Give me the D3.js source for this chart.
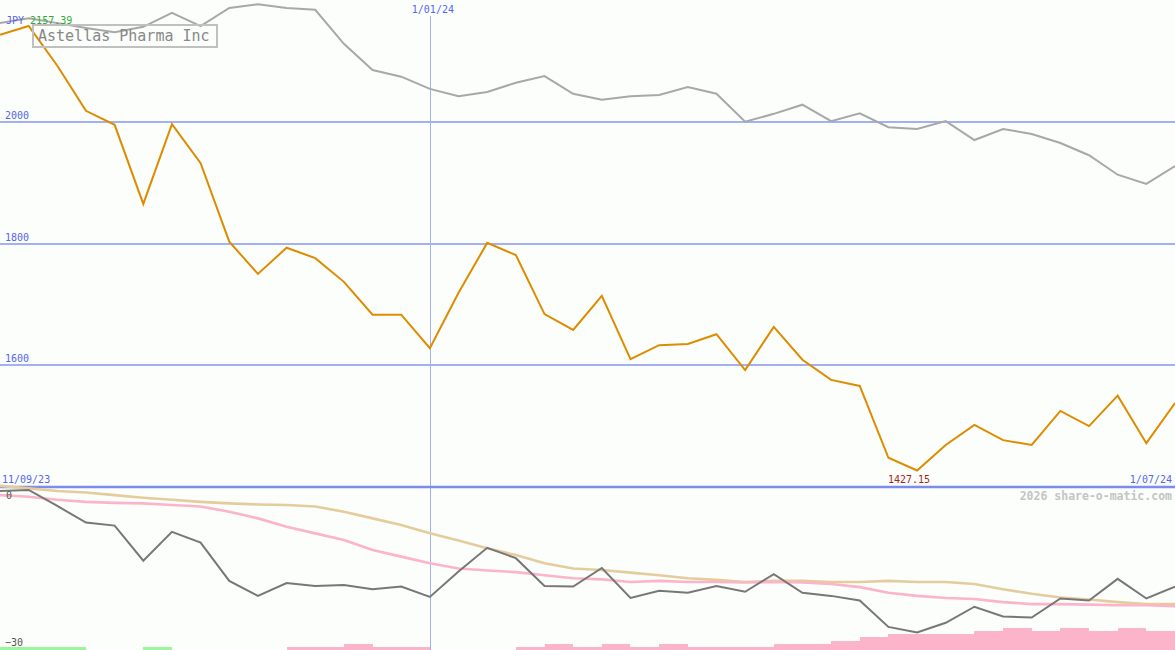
<!DOCTYPE html>
<html><head><meta charset="utf-8">
<script src="https://cdn.jsdelivr.net/npm/d3@7"></script>
<style>
html,body{margin:0;padding:0;background:#fbfefb;}
svg{display:block;}
text{font-family:"DejaVu Sans Mono",monospace;}
</style></head>
<body><svg id="c" width="1175" height="650"></svg>
<script>
// ---- data ----
const title = "Astellas Pharma Inc";
const currency = "JPY";
const dateLabels = ["11/09/23", "1/01/24", "1/07/24"];
const dateLabelIdx = [0, 15, 41];
const priceTicks = [1600, 1800, 2000];
const lowerTicks = [0, -30];
const price = [2143, 2157.39, 2092, 2018, 1995, 1865, 1996, 1932, 1803, 1750, 1793, 1776, 1737, 1683, 1683, 1628, 1719, 1801, 1781, 1684, 1658, 1714, 1610, 1633, 1635, 1651, 1592, 1663, 1609, 1576, 1566, 1448, 1427.15, 1469, 1502, 1477, 1469, 1525, 1500, 1550, 1472, 1538];
const indexLine = [2162, 2170, 2162, 2154, 2147, 2156, 2179, 2157, 2187, 2193, 2187, 2184, 2128, 2085, 2074, 2054, 2042, 2049, 2064, 2075, 2046, 2036, 2042, 2044, 2057, 2046, 2000, 2013, 2028, 2001, 2014, 1991, 1988, 2001, 1970, 1988, 1980, 1965, 1945, 1913, 1898, 1927];
const relPerf = [0, 0.2, -2.9, -6.1, -6.7, -13.5, -7.9, -10.0, -17.4, -20.3, -17.8, -18.4, -18.2, -19.0, -18.5, -20.5, -15.6, -11.0, -13.0, -18.4, -18.5, -14.9, -20.7, -19.3, -19.7, -18.4, -19.5, -16.1, -19.7, -20.3, -21.2, -26.3, -27.4, -25.5, -22.4, -24.3, -24.5, -20.8, -21.2, -17.0, -20.8, -18.5];
const maLong = [1.0, 0.5, 0, -0.3, -0.8, -1.3, -1.7, -2.1, -2.4, -2.6, -2.7, -3.0, -4.0, -5.3, -6.6, -8.2, -9.6, -11.1, -12.4, -14.0, -15.0, -15.3, -15.8, -16.3, -16.9, -17.2, -17.6, -17.4, -17.4, -17.6, -17.6, -17.4, -17.6, -17.6, -18.0, -19.0, -19.9, -20.6, -21.0, -21.5, -21.9, -21.9];
const maShort = [-0.8, -1.1, -1.7, -2.1, -2.3, -2.4, -2.7, -3.0, -4.0, -5.3, -6.9, -8.2, -9.5, -11.4, -12.7, -14.0, -15.0, -15.4, -15.7, -16.3, -16.9, -17.1, -17.6, -17.4, -17.6, -17.6, -17.7, -17.6, -17.7, -18.0, -18.6, -19.7, -20.3, -20.7, -20.9, -21.5, -21.9, -21.9, -22.0, -22.1, -22.1, -22.3];
const barValues = [1, 1, 1, 0, 0, 1, 0, 0, 0, 0, -1, -1, -2, -1, -1, 0, 0, 0, -1, -2, -1, -2, -1, -2, -1, -1, -1, -2, -2, -3, -4, -5, -5, -5, -6, -7, -6, -7, -6, -7, -6];
const watermark = "2026 share-o-matic.com";

// ---- chart ----
const W = 1175, H = 650;
const svg = d3.select("#c");
const n = price.length;
const x = d3.scaleLinear().domain([0, n - 1]).range([0, W]);
const y = d3.scaleLinear().domain([1400, 2200]).range([487, 0]);
const y2 = d3.scaleLinear().domain([-30, 0]).range([646, 491]);
const yb = d3.scaleLinear().domain([0, 7]).range([650, 628]);

svg.append("rect").attr("width", W).attr("height", H).attr("fill", "#fbfefb");

// horizontal gridlines
svg.selectAll("line.grid").data(priceTicks).join("line")
  .attr("x1", 0).attr("x2", W)
  .attr("y1", d => Math.round(y(d))).attr("y2", d => Math.round(y(d)))
  .attr("stroke", "#a3b1f2").attr("stroke-width", 2).attr("shape-rendering", "crispEdges");
svg.selectAll("text.grid").data(priceTicks).join("text")
  .attr("x", 5).attr("y", d => Math.round(y(d)) - 3)
  .attr("font-size", 10).attr("fill", "#5566ee").text(d => d);

// vertical date line
svg.append("line")
  .attr("x1", Math.round(x(dateLabelIdx[1])) + 0.5).attr("x2", Math.round(x(dateLabelIdx[1])) + 0.5)
  .attr("y1", 16).attr("y2", H)
  .attr("stroke", "#a6b0f0").attr("stroke-width", 1);

// bottom axis line
svg.append("line").attr("x1", 0).attr("x2", W).attr("y1", 487).attr("y2", 487)
  .attr("stroke", "#7b8bee").attr("stroke-width", 2.5);

// bars
svg.selectAll("rect.bar").data(barValues).join("rect")
  .attr("x", (d, i) => Math.round(x(i)))
  .attr("width", (d, i) => Math.round(x(i + 1)) - Math.round(x(i)))
  .attr("y", d => yb(Math.abs(d)))
  .attr("height", d => 650 - yb(Math.abs(d)))
  .attr("fill", d => d > 0 ? "#9cf59c" : "#fbb4c9")
  .attr("shape-rendering", "crispEdges");

const line = (ys, data) => d3.line().x((d, i) => x(i)).y(d => ys(d))(data);

// lower panel lines
svg.append("path").attr("d", line(y2, maLong)).attr("fill", "none").attr("stroke", "#e5cc9c").attr("stroke-width", 2.6);
svg.append("path").attr("d", line(y2, maShort)).attr("fill", "none").attr("stroke", "#fbb4c9").attr("stroke-width", 2.6);
svg.append("path").attr("d", line(y2, relPerf)).attr("fill", "none").attr("stroke", "#777777").attr("stroke-width", 2);

svg.selectAll("text.low").data(lowerTicks).join("text")
  .attr("x", d => d === 0 ? 6 : 5).attr("y", d => d === 0 ? 499 : 646)
  .attr("font-size", 10).attr("fill", "#555").text(d => d === 0 ? "0" : "\u221230");

// main lines
svg.append("path").attr("d", line(y, indexLine)).attr("fill", "none").attr("stroke", "#a8a8a8").attr("stroke-width", 2);
svg.append("path").attr("d", line(y, price)).attr("fill", "none").attr("stroke", "#dd8c00").attr("stroke-width", 2);

// title box
svg.append("rect").attr("x", 33).attr("y", 25).attr("width", 184).attr("height", 22)
  .attr("fill", "none").attr("stroke", "#c0c0c0").attr("stroke-width", 2);
svg.append("text").attr("x", 38).attr("y", 41).attr("font-size", 15).attr("fill", "#888").text(title);

// max label
const maxI = d3.maxIndex(price), minI = d3.minIndex(price);
const tl = svg.append("text").attr("x", 6).attr("y", 24).attr("font-size", 10);
tl.append("tspan").attr("fill", "#5566ee").text(currency + " ");
tl.append("tspan").attr("fill", "#33aa33").text(price[maxI].toFixed(2));

// min label
svg.append("text").attr("x", x(minI) - 8).attr("y", 483).attr("text-anchor", "middle")
  .attr("font-size", 10).attr("fill", "#aa2222").text(price[minI].toFixed(2));

// date labels
svg.append("text").attr("x", 2).attr("y", 483).attr("font-size", 10).attr("fill", "#5566ee").text(dateLabels[0]);
svg.append("text").attr("x", x(dateLabelIdx[1]) + 3).attr("y", 13).attr("text-anchor", "middle").attr("font-size", 10).attr("fill", "#5566ee").text(dateLabels[1]);
svg.append("text").attr("x", 1172).attr("y", 483).attr("text-anchor", "end").attr("font-size", 10).attr("fill", "#5566ee").text(dateLabels[2]);

// watermark
svg.append("text").attr("x", 1172).attr("y", 500).attr("text-anchor", "end")
  .attr("font-size", 11.5).attr("font-weight", "bold").attr("fill", "#c4c4c4").text(watermark);
</script></body></html>
